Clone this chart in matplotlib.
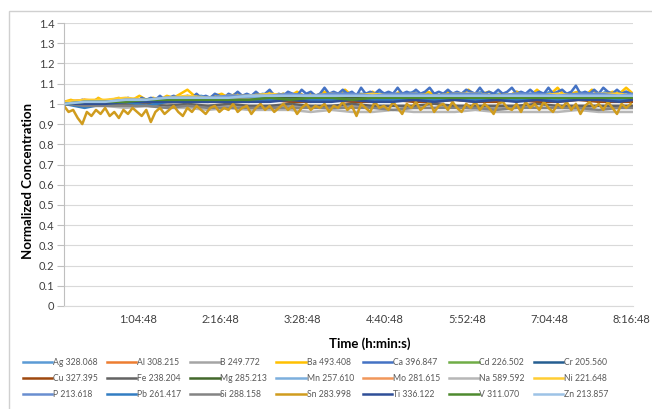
import numpy as np
import matplotlib
matplotlib.use("Agg")
import matplotlib.pyplot as plt
from matplotlib.patches import Rectangle

plt.rcParams['font.family'] = ['Lato', 'DejaVu Sans']

# sampling times in minutes
t_dense = np.arange(0, 497, 4)      # Sn, Ca
t_fine = np.arange(0, 499, 6)       # Ag, Ba
t_coarse = np.append(np.arange(0, 487, 18), 498)   # smoother channels

tick_labels = ['1:04:48', '2:16:48', '3:28:48', '4:40:48', '5:52:48', '7:04:48', '8:16:48']

names = ['Ag 328.068', 'Al 308.215', 'B 249.772', 'Ba 493.408', 'Ca 396.847', 'Cd 226.502', 'Cr 205.560',
         'Cu 327.395', 'Fe 238.204', 'Mg 285.213', 'Mn 257.610', 'Mo 281.615', 'Na 589.592', 'Ni 221.648',
         'P 213.618', 'Pb 261.417', 'Si 288.158', 'Sn 283.998', 'Ti 336.122', 'V 311.070', 'Zn 213.857']

colors = ['#5B9BD5', '#ED7D31', '#A5A5A5', '#FFC000', '#4472C4', '#70AD47', '#255E91',
          '#9E480E', '#636363', '#43682B', '#7CAFDD', '#F1975A', '#B7B7B7', '#FFCD33',
          '#698ED0', '#327DC2', '#848484', '#D09C1E', '#2F4F98', '#4E8A2F', '#9DC3E6']

# noisy channels
sn = [0.99, 0.96, 0.97, 0.93, 0.90, 0.96, 0.94, 0.97, 0.95, 0.98, 0.94, 0.96, 0.93, 0.97, 0.95,
      0.98, 0.96, 0.94, 0.97, 0.91, 0.96, 0.98, 0.95, 0.97, 0.99, 0.96, 0.94, 0.98, 0.96, 0.99,
      0.97, 0.95, 0.98, 0.99, 0.96, 0.98, 0.97, 1.00, 0.96, 0.98, 0.99, 0.95, 0.98, 1.00, 0.97,
      0.99, 0.96, 0.98, 1.00, 0.97, 0.99, 0.95, 0.98, 1.00, 0.97, 0.99, 0.98, 1.00, 0.96, 0.99,
      0.98, 1.01, 0.97, 0.99, 0.94, 1.00, 0.98, 0.96, 1.01, 0.98, 0.99, 0.97, 1.01, 0.98, 0.95,
      1.00, 0.98, 1.01, 0.97, 0.99, 1.01, 0.96, 0.99, 1.00, 0.97, 1.01, 0.98, 0.96, 1.00, 0.98,
      1.01, 0.97, 1.00, 0.98, 0.95, 1.00, 1.01, 0.98, 0.97, 1.00, 0.96, 1.01, 0.98, 1.00, 0.97,
      1.01, 0.98, 0.96, 1.00, 0.98, 1.01, 0.97, 1.00, 0.95, 0.99, 1.01, 0.98, 1.00, 0.97, 1.01,
      0.98, 0.95, 1.00, 0.98, 1.00]
ca = [1.00, 1.01, 1.00, 1.01, 1.02, 1.00, 1.01, 1.02, 1.01, 1.00, 1.02, 1.01, 1.02, 1.01, 1.03,
      1.02, 1.01, 1.03, 1.02, 1.03, 1.02, 1.04, 1.02, 1.03, 1.04, 1.03, 1.02, 1.04, 1.03, 1.05,
      1.03, 1.04, 1.03, 1.05, 1.04, 1.03, 1.05, 1.04, 1.06, 1.04, 1.05, 1.04, 1.06, 1.04, 1.05,
      1.07, 1.04, 1.05, 1.04, 1.06, 1.05, 1.04, 1.07, 1.05, 1.06, 1.04, 1.05, 1.08, 1.05, 1.06,
      1.05, 1.07, 1.05, 1.06, 1.04, 1.08, 1.05, 1.06, 1.05, 1.07, 1.05, 1.06, 1.05, 1.08, 1.05,
      1.06, 1.05, 1.07, 1.05, 1.06, 1.08, 1.05, 1.06, 1.05, 1.07, 1.05, 1.06, 1.05, 1.07, 1.06,
      1.05, 1.08, 1.05, 1.06, 1.05, 1.07, 1.05, 1.06, 1.08, 1.05, 1.06, 1.05, 1.07, 1.05, 1.06,
      1.05, 1.08, 1.05, 1.06, 1.07, 1.05, 1.06, 1.09, 1.05, 1.06, 1.05, 1.07, 1.05, 1.08, 1.06,
      1.05, 1.07, 1.05, 1.06, 1.05]
ag = [1.00, 1.00, 1.01, 1.00, 1.01, 1.02, 1.01, 1.01, 1.02, 1.01, 1.02, 1.02,
      1.02, 1.02, 1.03, 1.02, 1.03, 1.03, 1.02, 1.03, 1.04, 1.03, 1.03, 1.04,
      1.03, 1.04, 1.04, 1.03, 1.04, 1.05, 1.04, 1.04, 1.05, 1.04, 1.05, 1.04,
      1.05, 1.04, 1.05, 1.04, 1.05, 1.06, 1.04, 1.05, 1.05, 1.04, 1.06, 1.05,
      1.04, 1.05, 1.05, 1.06, 1.04, 1.05, 1.05, 1.04, 1.06, 1.05, 1.05, 1.04,
      1.05, 1.06, 1.04, 1.05, 1.05, 1.04, 1.06, 1.05, 1.05, 1.04, 1.05, 1.06,
      1.05, 1.04, 1.05, 1.06, 1.05, 1.05, 1.04, 1.06, 1.05, 1.05, 1.06, 1.05]
ba = [1.01, 1.02, 1.01, 1.02, 1.00, 1.03, 1.01, 1.02, 1.03, 1.01, 1.02, 1.04,
      1.02, 1.03, 1.02, 1.04, 1.03, 1.05, 1.07, 1.04, 1.03, 1.03, 1.04, 1.05,
      1.03, 1.05, 1.04, 1.03, 1.05, 1.04, 1.06, 1.04, 1.05, 1.04, 1.06, 1.04,
      1.05, 1.04, 1.06, 1.04, 1.05, 1.07, 1.04, 1.05, 1.04, 1.06, 1.04, 1.05,
      1.04, 1.06, 1.04, 1.05, 1.04, 1.06, 1.05, 1.04, 1.06, 1.04, 1.05, 1.07,
      1.04, 1.05, 1.06, 1.04, 1.05, 1.04, 1.06, 1.05, 1.04, 1.07, 1.04, 1.05,
      1.08, 1.04, 1.05, 1.06, 1.04, 1.07, 1.05, 1.04, 1.06, 1.05, 1.08, 1.05]

# smoother channels
al = [1.01, 1.02, 1.01, 1.01, 1.02, 1.01, 1.02, 1.02, 1.01, 1.02, 1.02, 1.02, 1.02, 1.03, 1.02,
      1.02, 1.03, 1.02, 1.02, 1.03, 1.02, 1.02, 1.03, 1.02, 1.02, 1.03, 1.02, 1.02, 1.02]
b = [1.00, 0.99, 1.00, 0.99, 0.99, 1.00, 0.99, 0.99, 0.99, 0.98, 0.99, 0.99, 0.98, 0.99, 0.99,
     0.98, 0.99, 0.98, 0.98, 0.99, 0.98, 0.98, 0.99, 0.98, 0.98, 0.98, 0.99, 0.98, 0.98]
cd = [1.00, 1.01, 1.01, 1.01, 1.02, 1.02, 1.02, 1.02, 1.03, 1.03, 1.03, 1.03, 1.03, 1.03, 1.04,
      1.03, 1.03, 1.04, 1.03, 1.03, 1.04, 1.03, 1.03, 1.03, 1.04, 1.03, 1.03, 1.03, 1.03]
cr = [1.00, 1.00, 1.01, 1.01, 1.01, 1.01, 1.02, 1.01, 1.02, 1.02, 1.02, 1.02, 1.02, 1.02, 1.02,
      1.02, 1.02, 1.02, 1.02, 1.02, 1.02, 1.02, 1.02, 1.02, 1.02, 1.02, 1.02, 1.02, 1.02]
cu = [1.00, 1.00, 1.01, 1.00, 1.01, 1.01, 1.01, 1.01, 1.01, 1.01, 1.02, 1.01, 1.01, 1.02, 1.01,
      1.01, 1.02, 1.01, 1.01, 1.02, 1.01, 1.01, 1.02, 1.01, 1.01, 1.02, 1.01, 1.01, 1.01]
fe = [1.00, 1.00, 0.99, 1.00, 1.00, 0.99, 1.00, 0.99, 1.00, 0.99, 0.99, 1.00, 0.99, 0.99, 1.00,
      0.99, 0.99, 0.99, 1.00, 0.99, 0.99, 0.99, 0.99, 1.00, 0.99, 0.99, 0.99, 0.99, 0.99]
mg = [1.00, 1.01, 1.01, 1.01, 1.02, 1.02, 1.02, 1.02, 1.02, 1.03, 1.03, 1.03, 1.03, 1.03, 1.03,
      1.03, 1.03, 1.03, 1.03, 1.03, 1.03, 1.03, 1.03, 1.03, 1.03, 1.03, 1.03, 1.03, 1.03]
mn = [1.00, 1.01, 1.01, 1.02, 1.02, 1.02, 1.03, 1.03, 1.03, 1.03, 1.04, 1.04, 1.04, 1.04, 1.04,
      1.04, 1.04, 1.04, 1.04, 1.04, 1.04, 1.04, 1.04, 1.04, 1.04, 1.04, 1.04, 1.04, 1.04]
mo = [1.00, 1.01, 1.01, 1.01, 1.01, 1.02, 1.01, 1.02, 1.02, 1.02, 1.02, 1.02, 1.02, 1.02, 1.02,
      1.02, 1.02, 1.02, 1.02, 1.02, 1.02, 1.02, 1.02, 1.02, 1.02, 1.02, 1.02, 1.02, 1.02]
na = [1.00, 0.99, 0.99, 0.98, 0.99, 0.98, 0.98, 0.97, 0.98, 0.97, 0.97, 0.97, 0.96, 0.97, 0.96,
      0.96, 0.97, 0.96, 0.96, 0.96, 0.97, 0.96, 0.96, 0.96, 0.96, 0.97, 0.96, 0.96, 0.96]
ni = [1.01, 1.02, 1.02, 1.03, 1.02, 1.03, 1.04, 1.03, 1.04, 1.04, 1.05, 1.04, 1.04, 1.05, 1.04,
      1.05, 1.04, 1.05, 1.04, 1.05, 1.05, 1.04, 1.05, 1.04, 1.05, 1.04, 1.05, 1.05, 1.04]
p = [1.00, 1.01, 1.01, 1.02, 1.02, 1.03, 1.03, 1.03, 1.04, 1.04, 1.04, 1.05, 1.04, 1.05, 1.05,
     1.04, 1.05, 1.05, 1.04, 1.05, 1.05, 1.04, 1.05, 1.05, 1.04, 1.05, 1.05, 1.04, 1.05]
pb = [1.00, 0.98, 1.00, 1.01, 0.99, 1.01, 1.01, 1.01, 1.02, 1.01, 1.02, 1.02, 1.02, 1.02, 1.02,
      1.02, 1.02, 1.02, 1.02, 1.02, 1.02, 1.02, 1.02, 1.02, 1.02, 1.02, 1.02, 1.02, 1.02]
si = [1.00, 0.99, 0.99, 0.99, 0.99, 0.98, 0.99, 0.98, 0.98, 0.98, 0.98, 0.98, 0.98, 0.98, 0.98,
      0.98, 0.97, 0.98, 0.98, 0.98, 0.98, 0.97, 0.98, 0.98, 0.98, 0.98, 0.97, 0.98, 0.98]
ti = [1.00, 1.00, 1.00, 1.01, 1.01, 1.01, 1.01, 1.01, 1.01, 1.01, 1.01, 1.02, 1.01, 1.01, 1.02,
      1.01, 1.01, 1.02, 1.01, 1.02, 1.01, 1.02, 1.01, 1.02, 1.01, 1.02, 1.02, 1.01, 1.02]
v = [1.00, 1.01, 1.01, 1.01, 1.02, 1.02, 1.02, 1.02, 1.02, 1.02, 1.03, 1.02, 1.03, 1.03, 1.02,
     1.03, 1.03, 1.03, 1.03, 1.03, 1.03, 1.03, 1.03, 1.03, 1.03, 1.03, 1.03, 1.03, 1.03]
zn = [1.00, 1.01, 1.01, 1.02, 1.02, 1.03, 1.03, 1.03, 1.03, 1.04, 1.04, 1.04, 1.04, 1.04, 1.04,
      1.04, 1.04, 1.04, 1.04, 1.04, 1.04, 1.04, 1.04, 1.04, 1.04, 1.04, 1.04, 1.04, 1.04]

series = [(t_fine, ag), (t_coarse, al), (t_coarse, b), (t_fine, ba), (t_dense, ca), (t_coarse, cd),
          (t_coarse, cr), (t_coarse, cu), (t_coarse, fe), (t_coarse, mg), (t_coarse, mn),
          (t_coarse, mo), (t_coarse, na), (t_coarse, ni), (t_coarse, p), (t_coarse, pb),
          (t_coarse, si), (t_dense, sn), (t_coarse, ti), (t_coarse, v), (t_coarse, zn)]

fig = plt.figure(figsize=(6.52, 4.09), dpi=100)
ax = fig.add_axes([64 / 652, 1 - 306 / 409, 569 / 652, 283 / 409])

handles = []
for (tt, yy), name, c in zip(series, names, colors):
    h, = ax.plot(tt, yy, color=c, lw=1.8, label=name)
    handles.append(h)

ax.set_xlim(0, 498)
ax.set_ylim(0, 1.4)
ax.set_yticks(np.arange(0, 1.41, 0.1))
ax.set_yticklabels(['0'] + ['%g' % round(x, 1) for x in np.arange(0.1, 1.41, 0.1)])

tick_pos = []
for s in tick_labels:
    h_, m_, s_ = [int(k) for k in s.split(':')]
    tick_pos.append(h_ * 60 + m_ + s_ / 60)
ax.set_xticks(tick_pos, tick_labels)

ax.grid(axis='y', color='#d9d9d9', lw=0.8)
ax.set_axisbelow(True)
for sp in ['top', 'right']:
    ax.spines[sp].set_visible(False)
ax.spines['left'].set_color('#bfbfbf')
ax.spines['bottom'].set_color('#d9d9d9')
ax.tick_params(axis='y', length=5, color='#bfbfbf', labelsize=8, labelcolor='#404040', pad=2)
ax.tick_params(axis='x', length=0, labelsize=8, labelcolor='#404040', pad=6)

fig.text(370 / 652, 1 - 344 / 409, 'Time (h:min:s)', ha='center', va='center',
         fontsize=9.5, fontweight='bold', color='#000000')
fig.text(28 / 652, 1 - 181 / 409, 'Normalized Concentration', ha='center', va='center',
         rotation=90, fontsize=9.5, fontweight='bold', color='#000000')

# legend, row-major order like the original
order = [r * 7 + c for c in range(7) for r in range(3)]
fig.legend([handles[i] for i in order], [names[i] for i in order], ncol=7,
           loc='upper left', bbox_to_anchor=(23 / 652, 1 - 358 / 409), frameon=False,
           fontsize=6.2, handlelength=3.4, handletextpad=0.1, columnspacing=1.05,
           labelspacing=0.8, labelcolor='#595959', borderaxespad=0, borderpad=0)

# chart frame (cropped on the right and bottom)
fig.patches.append(Rectangle((8.5 / 652, -0.05), 1.0, (409 - 11) / 409 + 0.05,
                             transform=fig.transFigure, fill=False, edgecolor='#d0d0d0', lw=1))

fig.savefig('out.png', dpi=100)
